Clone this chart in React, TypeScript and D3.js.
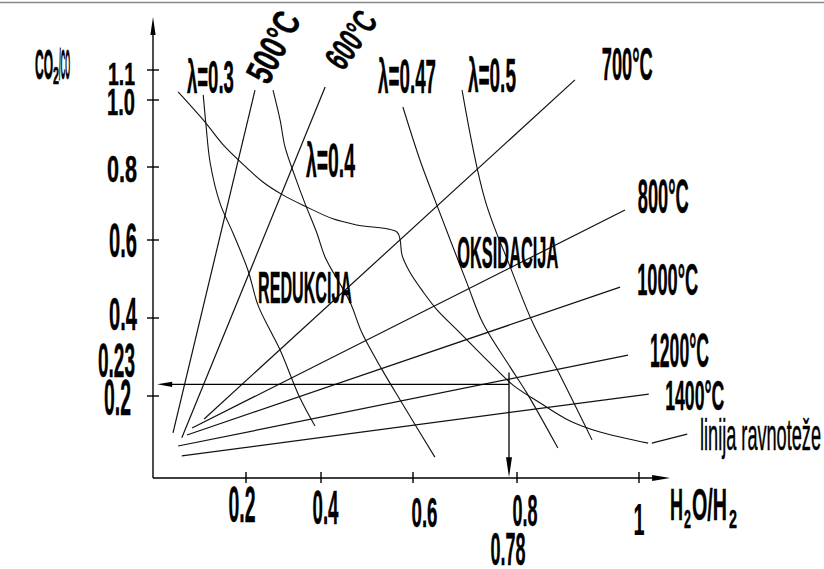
import React from 'react';
import * as d3 from 'd3';

// axis ticks (H2O/H2 on x, CO2/CO on y)
const xTicks = [0.2, 0.4, 0.6, 0.8, 1];
const xTickLabels = ['0.2', '0.4', '0.6', '0.8', '1'];
const yTicks = [0.2, 0.4, 0.6, 0.8, 1.0, 1.1];
const yTickLabels = ['0.2', '0.4', '0.6', '0.8', '1.0', '1.1'];

// isotherms: straight lines from the bottom-left fan to the upper right
const isothermLabels = ['500°C', '600°C', '700°C', '800°C', '1000°C', '1200°C', '1400°C'];
const isothermStart = [[0.043, 0.110], [0.062, 0.098], [0.110, 0.144], [0.084, 0.122], [0.073, 0.105], [0.054, 0.078], [0.062, 0.054]];
const isothermEnd = [[0.224, 1.033], [0.409, 1.043], [0.895, 1.067], [0.977, 0.682], [0.969, 0.479], [0.982, 0.305], [1.016, 0.205]];

// lambda curves
const lambdaLabels = ['λ=0.3', 'λ=0.4', 'λ=0.47', 'λ=0.5'];
const lambda03 = [[0.108, 1.017], [0.114, 0.925], [0.123, 0.812], [0.144, 0.701], [0.172, 0.619], [0.205, 0.523], [0.232, 0.433], [0.264, 0.369], [0.291, 0.318], [0.344, 0.195], [0.384, 0.127]];
const lambda04 = [[0.272, 1.033], [0.291, 0.940], [0.304, 0.860], [0.331, 0.773], [0.357, 0.701], [0.389, 0.619], [0.409, 0.556], [0.463, 0.441], [0.489, 0.362], [0.533, 0.267], [0.576, 0.183], [0.641, 0.051]];
const lambda047 = [[0.578, 0.979], [0.613, 0.821], [0.641, 0.710], [0.701, 0.490], [0.731, 0.387], [0.783, 0.274], [0.816, 0.208], [0.867, 0.073]];
const lambda05 = [[0.692, 1.033], [0.735, 0.710], [0.783, 0.531], [0.826, 0.387], [0.866, 0.267], [0.923, 0.093]];

// equilibrium line (linija ravnoteže) and its leader
const equilibrium = [[0.054, 1.027], [0.112, 0.934], [0.151, 0.866], [0.203, 0.797], [0.245, 0.759], [0.299, 0.723], [0.363, 0.690], [0.426, 0.658], [0.478, 0.641], [0.565, 0.622], [0.572, 0.600], [0.576, 0.562], [0.593, 0.518], [0.619, 0.467], [0.645, 0.421], [0.683, 0.369], [0.744, 0.285], [0.790, 0.228], [0.838, 0.183], [0.887, 0.139], [0.936, 0.112], [1.015, 0.085]];
const equilibriumLeader = [[1.021, 0.085], [1.079, 0.107]];

// reading example
const readX = 0.78;
const readY = 0.23;

const W = 824;
const H = 569;
const FONT = '"Liberation Sans", Arial, sans-serif';

function Label({ x, y, size, w, anchor = 'start', weight = 'bold', rotate = 0, thick = 0.45, children }: any) {
  return (
    <text
      transform={`translate(${x},${y}) rotate(${rotate})`}
      fontSize={size}
      textAnchor={anchor}
      fontWeight={weight}
      fontFamily={FONT}
      textLength={w}
      lengthAdjust="spacingAndGlyphs"
      fill="#000"
      stroke="#000"
      strokeWidth={thick}
    >
      {children}
    </text>
  );
}

function arrow(tx: number, ty: number, dx: number, dy: number, len: number, half: number) {
  const bx = tx - dx * len, by = ty - dy * len;
  const px = -dy * half, py = dx * half;
  return `M${tx},${ty}L${bx + px},${by + py}L${bx - px},${by - py}Z`;
}

export default function App() {
  const x = d3.scaleLinear().domain([0, 0.2, 0.4, 0.6, 0.78, 0.8, 1.0]).range([153, 246, 321, 413, 509, 517, 639]);
  const y = d3.scaleLinear().domain([0, 0.2, 0.4, 0.6, 0.8, 1.0, 1.1]).range([478, 396, 318, 240, 167, 100, 70]);

  const straight = d3.line<number[]>().x(d => x(d[0])).y(d => y(d[1]));
  const smooth = d3.line<number[]>().x(d => x(d[0])).y(d => y(d[1])).curve(d3.curveCatmullRom.alpha(0.5));

  const x0 = x(0), y0 = y(0);
  const xEnd = x(1.051), yEnd = y(1.277);

  // label layout
  const yLab = [
    { dy: 19, size: 50, w: 27, right: 131 },
    { dy: 12, size: 47, w: 28, right: 137 },
    { dy: 17, size: 48, w: 28, right: 137 },
    { dy: 15, size: 36, w: 30, right: 137 },
    { dy: 15, size: 36, w: 28, right: 135 },
    { dy: 15, size: 32, w: 27, right: 135 },
  ];
  const xLab = [
    { dx: -4, base: 522, size: 50, w: 27, thick: 0.45 },
    { dx: 4.5, base: 524, size: 48, w: 26, thick: 0.45 },
    { dx: 11.5, base: 527, size: 43, w: 26, thick: 0.45 },
    { dx: 8, base: 526, size: 44, w: 25, thick: 0.45 },
    { dx: 0, base: 535, size: 45, w: 11, thick: 0.2 },
  ];
  const isoLab = [
    { at: [0.259, 1.047], size: 38, w: 74, rot: -63 },
    { at: [0.448, 1.093], size: 35, w: 62, rot: -55 },
    { at: [0.939, 1.067], size: 47, w: 51, rot: 0 },
    { at: [0.998, 0.674], size: 49, w: 51, rot: 0 },
    { at: [0.997, 0.459], size: 45, w: 61, rot: 0 },
    { at: [1.018, 0.274], size: 48, w: 59, rot: 0 },
    { at: [1.043, 0.166], size: 43, w: 59, rot: 0 },
  ];
  const lamLab = [
    { at: [0.073, 1.023], size: 47, w: 47 },
    { at: [0.36, 0.773], size: 48, w: 49 },
    { at: [0.524, 1.023], size: 49, w: 58 },
    { at: [0.703, 1.027], size: 48, w: 48 },
  ];
  const lambdas = [lambda03, lambda04, lambda047, lambda05];

  return (
    <svg width={W} height={H} style={{ position: 'absolute', left: 0, top: 0, background: '#fff' }}>
      <rect x={0} y={0} width={W} height={H} fill="#fff" />
      <line x1={0} x2={W} y1={2.5} y2={2.5} stroke="#888" strokeWidth={1.6} />

      {/* axes */}
      <g stroke="#000" strokeWidth={1.4}>
        <line x1={x0} x2={x0} y1={y0} y2={yEnd + 10} />
        <line x1={x0} x2={xEnd - 10} y1={y0} y2={y0} />
        {yTicks.map(t => <line key={t} x1={x0 - 6} x2={x0 + 6} y1={y(t)} y2={y(t)} />)}
        {xTicks.map(t => <line key={t} x1={x(t)} x2={x(t)} y1={y0 - 6} y2={y0 + 5} />)}
      </g>
      <path d={arrow(x0, yEnd, 0, -1, 18, 2.6)} fill="#000" />
      <path d={arrow(xEnd, y0, 1, 0, 18, 3)} fill="#000" />

      {/* isotherms */}
      <g stroke="#111" strokeWidth={1.2} fill="none">
        {isothermStart.map((s, i) => <path key={i} d={straight([s, isothermEnd[i]])!} />)}
      </g>

      {/* lambda curves + equilibrium */}
      <g stroke="#111" strokeWidth={1.1} fill="none">
        {lambdas.map((c, i) => <path key={i} d={smooth(c)!} />)}
        <path d={smooth(equilibrium)!} />
        <path d={straight(equilibriumLeader)!} />
      </g>

      {/* reading 0.78 -> 0.23 */}
      <g stroke="#000" strokeWidth={1.3}>
        <line x1={x(readX)} x2={x(0.009) + 10} y1={y(readY)} y2={y(readY)} />
        <line x1={x(readX)} x2={x(readX)} y1={y(0.26)} y2={y(0.002) - 12} />
      </g>
      <path d={arrow(x(0.009), y(readY), -1, 0, 15, 2.6)} fill="#000" />
      <path d={arrow(x(readX), y(0.002), 0, 1, 20, 3)} fill="#000" />

      {/* tick labels */}
      {yTicks.map((t, i) => (
        <Label key={t} x={yLab[i].right} y={y(t) + yLab[i].dy} size={yLab[i].size} w={yLab[i].w} anchor="end">
          {yTickLabels[i]}
        </Label>
      ))}
      <Label x={135} y={y(readY) - 7} size={48} w={37} anchor="end">{String(readY)}</Label>
      {xTicks.map((t, i) => (
        <Label key={t} x={x(t) + xLab[i].dx} y={xLab[i].base} size={xLab[i].size} w={xLab[i].w} thick={xLab[i].thick} anchor="middle">
          {xTickLabels[i]}
        </Label>
      ))}
      <Label x={x(readX) - 1} y={565} size={47} w={35} anchor="middle">{String(readX)}</Label>

      {/* axis titles */}
      <Label x={35} y={79} size={42} w={18} thick={0.8}>CO</Label>
      <Label x={53} y={84} size={24} w={6} thick={0.6}>2</Label>
      <Label x={59} y={79} size={42} w={11} thick={0.8}>/CO</Label>

      <Label x={670} y={520} size={45} w={13}>H</Label>
      <Label x={684} y={528} size={26} w={7}>2</Label>
      <Label x={692} y={520} size={45} w={35}>O/H</Label>
      <Label x={729} y={528} size={26} w={8}>2</Label>

      {/* curve labels */}
      {isothermLabels.map((l, i) => (
        <Label key={l} x={x(isoLab[i].at[0])} y={y(isoLab[i].at[1])} size={isoLab[i].size} w={isoLab[i].w} rotate={isoLab[i].rot}>
          {l}
        </Label>
      ))}
      {lambdaLabels.map((l, i) => (
        <Label key={l} x={x(lamLab[i].at[0])} y={y(lamLab[i].at[1])} size={lamLab[i].size} w={lamLab[i].w}>
          {l}
        </Label>
      ))}
      <Label x={x(0.232)} y={y(0.438)} size={44} w={94}>REDUKCIJA</Label>
      <Label x={x(0.683)} y={y(0.528)} size={44} w={101}>OKSIDACIJA</Label>
      <Label x={x(1.1)} y={y(0.068)} size={45} w={121} weight="normal" thick={0.5}>linija ravnoteže</Label>
    </svg>
  );
}
